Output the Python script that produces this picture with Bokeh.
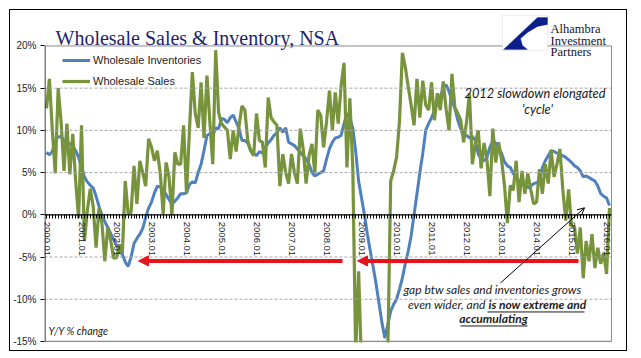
from bokeh.plotting import figure
from bokeh.models import (Range1d, FixedTicker, PrintfTickFormatter, Label, Arrow,
                          NormalHead, OpenHead, BoxAnnotation, PolyAnnotation)
from bokeh.embed import file_html
from bokeh.resources import INLINE

# ---------------- data (monthly, Jan 2000 .. Feb 2016, Y/Y % change) ----------------
tick_labels = ["2000.01", "2001.01", "2002.01", "2003.01", "2004.01", "2005.01",
               "2006.01", "2007.01", "2008.01", "2009.01", "2010.01", "2011.01",
               "2012.01", "2013.01", "2014.01", "2015.01", "2016.01"]

y_ticks = [-15, -10, -5, 0, 5, 10, 15, 20]

inventories = [
    7.4, 7.1, 7.5, 8.8, 9.2, 9.3, 8.8, 8.5, 8.4, 8.2, 7.6, 6.8,          # 2000
    5.6, 4.5, 3.9, 3.5, 3.2, 2.2, 1.0, 0.0, -0.8, -1.5, -2.2, -2.9,      # 2001
    -3.6, -4.3, -4.7, -5.6, -6.1, -5.0, -3.4, -2.8, -2.3, -1.6, -0.3, 0.8,  # 2002
    1.5, 2.6, 3.4, 3.3, 3.0, 2.4, 1.8, 1.3, 1.6, 2.0, 2.5, 2.5,          # 2003
    2.6, 3.6, 3.9, 3.8, 5.0, 6.0, 7.6, 9.4, 9.6, 9.4, 10.3, 10.2,        # 2004
    11.4, 11.3, 10.9, 11.5, 11.8, 11.0, 10.2, 8.8, 8.8, 8.5, 7.6, 7.3,   # 2005
    7.0, 7.5, 7.3, 8.0, 8.5, 8.9, 9.4, 9.7, 10.3, 9.8, 10.3, 8.6,        # 2006
    8.4, 8.2, 7.8, 7.4, 7.0, 6.6, 6.0, 5.0, 4.6, 4.8, 5.0, 5.2,          # 2007
    6.6, 7.8, 8.6, 9.1, 9.2, 9.4, 10.8, 12.0, 11.4, 10.3, 7.5, 4.0,      # 2008
    2.0, 0.0, -2.3, -4.3, -6.2, -8.2, -10.5, -12.8, -14.6, -13.0, -11.4, -10.6,  # 2009
    -10.0, -8.8, -7.5, -5.8, -4.3, -2.5, 0.0, 2.5, 5.0, 7.3, 10.0, 10.8,  # 2010
    11.5, 12.4, 13.3, 14.0, 15.0, 15.4, 14.6, 13.5, 12.6, 11.2, 10.2, 9.4,  # 2011
    9.4, 9.1, 9.3, 8.8, 7.2, 6.6, 6.4, 6.8, 8.0, 8.8, 8.5, 7.8,          # 2012
    7.3, 6.3, 5.8, 5.6, 4.9, 4.5, 4.0, 3.9, 3.6, 3.2, 3.4, 3.7,          # 2013
    3.8, 4.0, 5.6, 6.4, 7.0, 7.6, 7.5, 7.3, 7.2, 7.0, 6.8, 6.5,          # 2014
    6.2, 5.8, 5.6, 5.2, 4.5, 4.6, 4.4, 4.2, 4.0, 3.4, 2.5, 2.2,          # 2015
    2.0, 1.1,                                                            # 2016
]

sales = [
    12.6, 16.1, 10.0, 4.9, 15.0, 11.0, 5.2, 10.8, 4.8, 9.6, 4.0, -0.4,   # 2000
    10.6, -3.1, 0.5, 3.1, 1.0, -3.9, 0.8, -1.0, -5.5, -1.5, -3.0, -5.1,  # 2001
    -5.1, -3.5, -4.6, 4.0, 0.1, 0.3, 5.8, 1.3, 6.4, 5.0, 3.4, 9.0,       # 2002
    8.0, 6.4, 7.6, 4.9, 0.1, 6.2, 4.5, 0.0, 7.4, 6.0, 6.0, 10.6,         # 2003
    2.5, 10.0, 16.9, 12.0, 10.3, 15.7, 9.1, 16.5, 11.0, 6.0, 19.5, 12.1,  # 2004
    10.8, 10.4, 10.0, 6.6, 10.0, 7.5, 10.5, 12.9, 12.4, 8.8, 7.6, 7.0,   # 2005
    12.0, 8.8, 8.6, 5.6, 13.9, 11.5, 11.0, 10.6, 3.4, 7.2, 5.0, 3.7,     # 2006
    7.2, 5.0, 3.7, 10.2, 7.8, 3.7, 7.0, 8.4, 4.9, 12.4, 11.8, 8.0,       # 2007
    11.0, 14.7, 10.0, 14.5, 10.8, 15.3, 18.0, 5.6, 13.8, 5.6, -16.5, -6.7,  # 2008
    -18.0, -19.5, -21.0, -22.0, -21.5, -20.5, -19.5, -18.5, -17.5, -16.5, 4.0, 5.2,  # 2009
    6.8, 11.0, 19.2, 17.5, 15.2, 13.0, 10.6, 16.1, 11.5, 15.9, 13.0, 12.4,  # 2010
    15.7, 11.2, 14.4, 12.4, 15.8, 12.5, 10.0, 16.7, 12.7, 12.0, 11.2, 8.6,  # 2011
    11.0, 14.4, 6.0, 8.4, 10.0, 5.5, 8.5, 6.5, 2.2, 10.2, 6.2, 8.6,      # 2012
    6.5, 3.5, -1.0, 3.5, 2.9, 6.4, 1.5, 5.2, 2.5, 4.9, 3.0, 1.3,         # 2013
    1.5, 5.4, 2.5, 6.0, 3.7, 7.7, 4.5, 6.0, 7.8, 3.0, -0.7, 3.0,         # 2014
    -1.3, -1.4, -4.6, -1.5, -7.5, -3.1, -5.5, -2.3, -6.3, -3.9, -5.8, -4.5,  # 2015
    -7.0, 0.8,                                                           # 2016
]

months = list(range(len(sales)))

# ---------------- geometry helpers (page pixels -> data units, for annotations) ----
PX_X0, PX_PER_M = 46.0, 2.917
PX_Y0, PX_PER_PCT = 214.0, 8.43


def dx(px):
    return (px - PX_X0) / PX_PER_M


def dy(py):
    return (PX_Y0 - py) / PX_PER_PCT


BLUE = "#4F81BD"
GREEN = "#77933C"
RED = "#E8131B"
NAVY = "#1F1F6B"
FRAME_GRAY = "#8c8c8c"

# plot area in page px: left 44, right 611, top 45 (20%), bottom 340 (-15%)
X_LEFT, X_RIGHT = dx(44), dx(611)
Y_TOP, Y_BOT = max(y_ticks), min(y_ticks)

p = figure(width=618, height=342, output_backend="svg", toolbar_location=None,
           x_range=Range1d(dx(44), dx(628)), y_range=Range1d(dy(341.5), dy(10)),
           min_border_left=34, min_border_right=0, min_border_top=0,
           min_border_bottom=10)
p.title.text = ""
p.title.visible = False
p.styles = {"margin-left": "9px", "margin-top": "9px", "border": "1px solid #000000"}
p.background_fill_color = "white"
p.border_fill_color = "white"
p.outline_line_color = None
p.xgrid.visible = False
p.ygrid.visible = False


def hline(x0, x1, y, color, width=1, dash="solid"):
    p.add_layout(Arrow(x_start=x0, y_start=y, x_end=x1, y_end=y, line_color=color,
                       line_width=width, line_dash=dash, end=None))


def vline(x, y0, y1, color, width=1):
    p.add_layout(Arrow(x_start=x, y_start=y0, x_end=x, y_end=y1, line_color=color,
                       line_width=width, end=None))


# dashed grid and plot-area border
for t in y_ticks:
    if t not in (Y_TOP, Y_BOT, 0):
        hline(X_LEFT, X_RIGHT, t, "#a6a6a6", 1, "3 2")
hline(X_LEFT, X_RIGHT, Y_TOP, FRAME_GRAY)
hline(X_LEFT, X_RIGHT, Y_BOT, FRAME_GRAY, 1.2)
vline(X_RIGHT, Y_BOT, Y_TOP, FRAME_GRAY)

# lines
p.line(months, inventories, line_color=BLUE, line_width=3, legend_label="Wholesale Inventories")
p.line(months, sales, line_color=GREEN, line_width=3.2, legend_label="Wholesale Sales")

# axis lines
vline(dx(44.5), Y_BOT, Y_TOP, "black", 1)
hline(X_LEFT, X_RIGHT, 0, "black", 1.3)

# x axis at 0%
xa = p.xaxis[0]
xa.ticker = FixedTicker(ticks=[12 * i for i in range(len(tick_labels))], minor_ticks=months)
xa.major_label_overrides = {12 * i: lab for i, lab in enumerate(tick_labels)}
xa.major_label_orientation = "vertical"
xa.fixed_location = 0
xa.axis_line_color = None
xa.major_tick_in = 0
xa.major_tick_out = 4
xa.minor_tick_in = 0
xa.minor_tick_out = 4
xa.major_tick_line_color = "black"
xa.minor_tick_line_color = "black"
xa.major_label_standoff = 3
xa.major_label_text_font = "Liberation Sans"
xa.major_label_text_font_size = "9.5px"
xa.major_label_text_color = "#222222"

# y axis
ya = p.yaxis[0]
ya.ticker = FixedTicker(ticks=y_ticks)
ya.formatter = PrintfTickFormatter(format="%d%%")
ya.axis_line_color = None
ya.major_tick_in = 0
ya.major_tick_out = 4
ya.major_tick_line_color = "black"
ya.minor_tick_line_color = None
ya.major_label_standoff = 4
ya.major_label_text_font = "Liberation Sans"
ya.major_label_text_font_size = "10px"
ya.major_label_text_color = "#222222"

# legend
lg = p.legend[0]
lg.location = (18, 254)
lg.border_line_color = None
lg.background_fill_alpha = 0
lg.padding = 0
lg.margin = 0
lg.spacing = 7
lg.glyph_width = 28
lg.glyph_height = 14
lg.label_height = 14
lg.label_standoff = 3
lg.label_text_font = "Liberation Sans"
lg.label_text_font_size = "11px"
lg.label_text_color = "#222222"

# title and logo
p.add_layout(Label(x=dx(55), y=dy(37), text="Wholesale Sales & Inventory, NSA",
                   text_font="Liberation Serif", text_font_size="20px",
                   text_color=NAVY, text_baseline="alphabetic"))
p.add_layout(BoxAnnotation(left=dx(502), right=dx(547), top=dy(15), bottom=dy(50),
                           fill_color="white", fill_alpha=1, line_color="#c8c8c8",
                           line_width=1))
logo_px = [(503, 49), (537, 17), (547, 17), (547, 24), (537, 26), (527, 32),
           (520, 38), (522, 45), (527, 49)]
p.add_layout(PolyAnnotation(xs=[dx(a) for a, b in logo_px], ys=[dy(b) for a, b in logo_px],
                            fill_color="#0B1E8C", fill_alpha=1, line_color="#0B1E8C"))
for txt, base in [("Alhambra", 28), ("Investment", 40), ("Partners", 51)]:
    p.add_layout(Label(x=dx(550), y=dy(base), text=txt, text_font="Liberation Serif",
                       text_font_size="12.5px", text_color="#14142a",
                       text_baseline="alphabetic"))

# red arrows
for xs, xe in [(342, 138), (578, 357)]:
    p.add_layout(Arrow(x_start=dx(xs), y_start=dy(260), x_end=dx(xe), y_end=dy(260),
                       line_color=RED, line_width=4,
                       end=NormalHead(size=10, fill_color=RED, line_color=RED, line_width=1)))

# black pointer arrow
p.add_layout(Arrow(x_start=dx(500), y_start=dy(282), x_end=dx(584), y_end=dy(207),
                   line_color="black", line_width=1,
                   end=OpenHead(size=7, line_color="black", line_width=1)))

# annotation texts
ITAL = "Lato"
p.add_layout(Label(x=dx(536), y=dy(92), text="2012 slowdown  elongated", text_font=ITAL,
                   text_font_style="italic", text_font_size="12.8px", text_color="#1a1a1a",
                   text_align="center", text_baseline="middle"))
p.add_layout(Label(x=dx(537), y=dy(108), text="'cycle'", text_font=ITAL,
                   text_font_style="italic", text_font_size="12.8px", text_color="#1a1a1a",
                   text_align="center", text_baseline="middle"))

p.add_layout(Label(x=dx(492), y=dy(289), text="gap btw sales and inventories grows",
                   text_font=ITAL, text_font_style="italic", text_font_size="12px",
                   text_color="#1a1a1a", text_align="center", text_baseline="middle"))
p.add_layout(Label(x=dx(485), y=dy(304), text="even wider, and",
                   text_font=ITAL, text_font_style="italic", text_font_size="12px",
                   text_color="#1a1a1a", text_align="right", text_baseline="middle"))
p.add_layout(Label(x=dx(488), y=dy(304), text="is now  extreme and",
                   text_font=ITAL, text_font_style="bold italic", text_font_size="12px",
                   text_color="#1a1a1a", text_align="left", text_baseline="middle"))
p.add_layout(Label(x=dx(493), y=dy(318), text="accumulating",
                   text_font=ITAL, text_font_style="bold italic", text_font_size="12px",
                   text_color="#1a1a1a", text_align="center", text_baseline="middle"))
for x0, x1, yy in [(487, 584, 311), (460, 527, 325)]:
    hline(dx(x0), dx(x1), dy(yy), "#1a1a1a", 1)

p.add_layout(Label(x=dx(48), y=dy(330), text="Y/Y % change", text_font=ITAL,
                   text_font_style="italic", text_font_size="10.5px", text_color="#1a1a1a",
                   text_baseline="middle"))

open("out.html", "w").write(file_html(p, INLINE))
